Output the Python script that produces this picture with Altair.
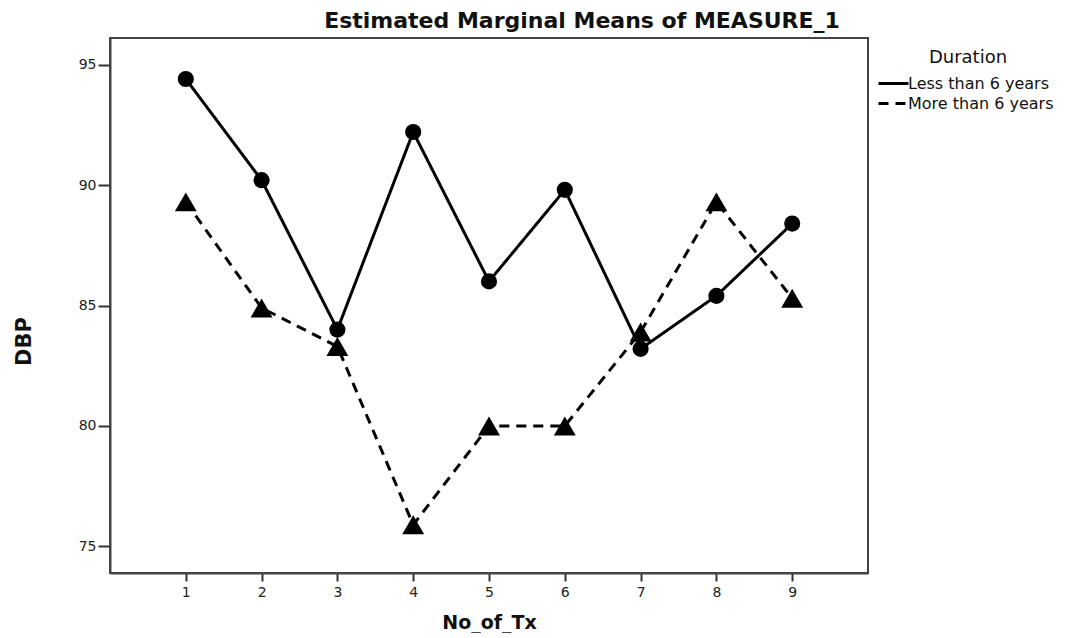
import altair as alt
import pandas as pd

tx = [1, 2, 3, 4, 5, 6, 7, 8, 9]
less_than_6 = [94.4, 90.2, 84.0, 92.2, 86.0, 89.8, 83.2, 85.4, 88.4]
more_than_6 = [89.3, 84.9, 83.3, 75.9, 80.0, 80.0, 83.9, 89.3, 85.3]
series_names = ["Less than 6 years", "More than 6 years"]
y_ticks = [75, 80, 85, 90, 95]

rows = []
for name, vals in zip(series_names, [less_than_6, more_than_6]):
    for t, v in zip(tx, vals):
        rows.append({"No_of_Tx": t, "DBP": v, "Duration": name})
df = pd.DataFrame(rows)

FONT = "DejaVu Sans"

x_enc = alt.X("No_of_Tx:Q",
              scale=alt.Scale(domain=[0, 10], nice=False, zero=False),
              axis=alt.Axis(values=tx, format="d", grid=False, tickSize=8,
                            tickWidth=2, tickColor="#333", domainColor="#444",
                            domainWidth=2, labelFont=FONT, labelFontSize=14,
                            labelColor="#222", labelPadding=4,
                            title="No_of_Tx", titleFont=FONT, titleFontSize=19,
                            titleFontWeight="bold", titleColor="#111",
                            titleY=49, titleBaseline="middle"))
y_enc = alt.Y("DBP:Q",
              scale=alt.Scale(domain=[73.9, 96.1], nice=False, zero=False),
              axis=alt.Axis(values=y_ticks, grid=False, tickSize=12,
                            tickWidth=2, tickColor="#333", domainColor="#444",
                            domainWidth=2, labelFont=FONT, labelFontSize=14,
                            labelColor="#222", labelPadding=2,
                            title="DBP", titleFont=FONT, titleFontSize=21,
                            titleFontWeight="bold", titleColor="#111",
                            titleAngle=270, titleX=-86, titleY=303,
                            titleAlign="center", titleBaseline="middle"))

base = alt.Chart(df)

lines = base.mark_line(color="black", strokeWidth=3).encode(
    x=x_enc, y=y_enc,
    strokeDash=alt.StrokeDash(
        "Duration:N",
        scale=alt.Scale(domain=series_names, range=[[1, 0], [10, 7]]),
        legend=alt.Legend(title="Duration", orient="none", legendX=772,
                          legendY=11, symbolType="M-1.5,0L1.5,0",
                          symbolSize=400, symbolStrokeWidth=3,
                          symbolStrokeColor="black", symbolFillColor="black",
                          titleFont=FONT, titleFontSize=18,
                          titleFontWeight="normal", titleColor="#111",
                          titleAnchor="middle", titlePadding=5,
                          labelFont=FONT, labelFontSize=16, labelColor="#111",
                          labelOffset=3, rowPadding=-2)),
    detail="Duration:N",
)

circles = base.transform_filter(
    alt.datum.Duration == series_names[0]
).mark_point(filled=True, color="black", opacity=1, shape="circle",
             size=260).encode(x=x_enc, y=y_enc)

triangles = base.transform_filter(
    alt.datum.Duration == series_names[1]
).mark_point(filled=True, color="black", opacity=1, shape="triangle-up",
             size=480).encode(x=x_enc, y=y_enc)

chart = alt.layer(lines, circles, triangles).properties(
    width=758,
    height=535,
    padding={"left": 102, "top": 30, "right": 200, "bottom": 60},
    autosize=alt.AutoSizeParams(type="none"),
    title=alt.TitleParams("Estimated Marginal Means of MEASURE_1",
                          font=FONT, fontSize=22, fontWeight="bold",
                          color="#111", anchor="middle", dx=93, offset=5),
).configure(
    background="white",
    view=alt.ViewConfig(stroke="#444", strokeWidth=2),
)

chart.save("out.html", embed_options={"renderer": "svg", "actions": False})
